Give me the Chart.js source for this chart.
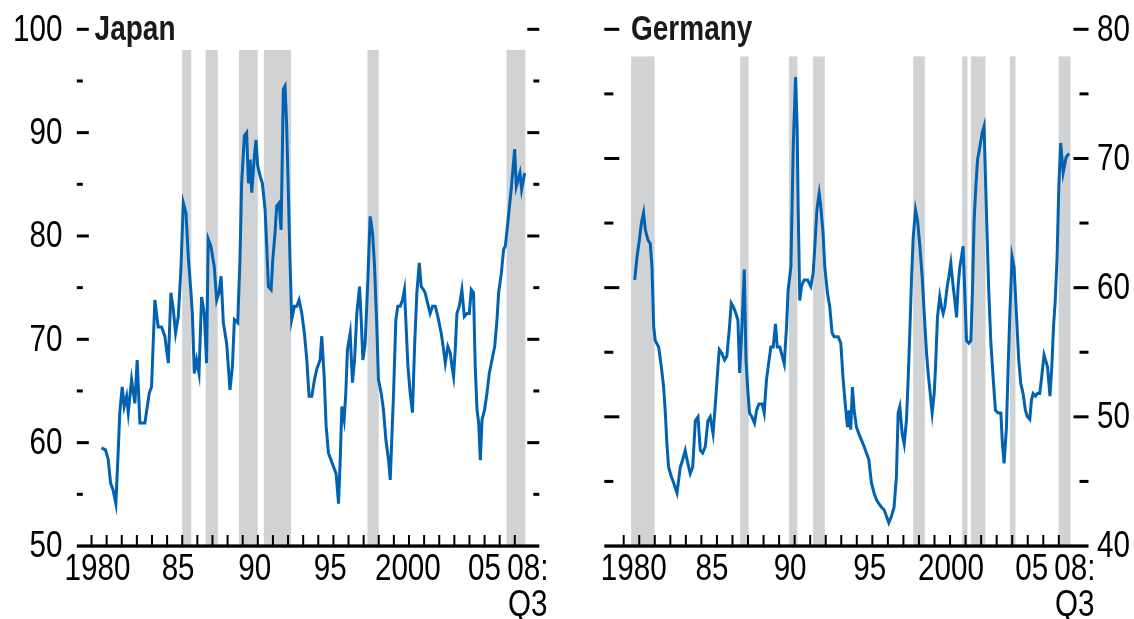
<!DOCTYPE html>
<html>
<head>
<meta charset="utf-8">
<script src="https://cdn.jsdelivr.net/npm/chart.js@4.4.1/dist/chart.umd.min.js"></script>
<style>
  html, body { margin: 0; padding: 0; background: #ffffff; }
  #wrap { position: relative; width: 1134px; height: 619px; overflow: hidden; background: #fff; }
  canvas { position: absolute; top: 0; }
  #japan { left: 0; }
  #germany { left: 570px; }
</style>
</head>
<body>
<div id="wrap">
  <canvas id="japan" width="570" height="619"></canvas>
  <canvas id="germany" width="564" height="619"></canvas>
</div>
<script>
// ---------------- DATA ----------------
const tickYears = [1980,1981,1982,1983,1984,1985,1986,1987,1988,1989,1990,1991,1992,1993,1994,1995,1996,1997,1998,1999,2000,2001,2002,2003,2004,2005,2006,2007,2008];
const tickLabelYears = [1980, 1985, 1990, 1995, 2000, 2005, 2008];
const tickLabels = ["1980", "85", "90", "95", "2000", "05", ["08:", "Q3"]];

const japanTitle = "Japan";
const germanyTitle = "Germany";

const japanYears = [1980.66,1980.92,1981.10,1981.26,1981.43,1981.61,1981.76,1981.87,1982.03,1982.16,1982.32,1982.43,1982.65,1982.87,1983.02,1983.20,1983.53,1983.82,1983.97,1984.19,1984.41,1984.63,1984.85,1985.08,1985.25,1985.41,1985.56,1985.74,1985.91,1986.07,1986.25,1986.40,1986.58,1986.67,1986.80,1986.95,1987.11,1987.28,1987.46,1987.61,1987.72,1987.90,1988.12,1988.28,1988.43,1988.57,1988.72,1988.94,1989.16,1989.32,1989.45,1989.67,1989.82,1989.93,1990.11,1990.26,1990.38,1990.49,1990.60,1990.77,1990.88,1990.99,1991.15,1991.30,1991.48,1991.59,1991.70,1991.88,1991.99,1992.14,1992.25,1992.41,1992.54,1992.69,1992.80,1992.91,1993.02,1993.13,1993.24,1993.42,1993.58,1993.73,1993.91,1994.08,1994.24,1994.39,1994.57,1994.75,1994.90,1995.12,1995.23,1995.39,1995.52,1995.67,1995.85,1996.00,1996.18,1996.34,1996.45,1996.56,1996.71,1996.82,1996.93,1997.11,1997.26,1997.40,1997.55,1997.73,1997.84,1997.95,1998.10,1998.28,1998.43,1998.59,1998.72,1998.87,1998.98,1999.16,1999.31,1999.47,1999.65,1999.76,1999.87,1999.98,2000.13,2000.26,2000.42,2000.57,2000.70,2000.79,2000.93,2001.08,2001.23,2001.37,2001.52,2001.68,2001.81,2001.96,2002.07,2002.23,2002.40,2002.56,2002.74,2002.91,2003.13,2003.29,2003.40,2003.57,2003.73,2003.84,2003.95,2004.06,2004.17,2004.33,2004.50,2004.66,2004.83,2004.99,2005.12,2005.27,2005.38,2005.50,2005.61,2005.72,2005.83,2006.00,2006.16,2006.31,2006.49,2006.67,2006.82,2006.93,2007.11,2007.26,2007.37,2007.51,2007.78,2007.99,2008.10,2008.34,2008.45,2008.65];
const japanValues = [59.5,59.3,58.4,56.1,55.4,54.1,59.0,62.9,65.4,63.5,64.5,62.9,66.1,63.8,68.0,61.9,61.9,64.8,65.4,73.8,71.2,71.2,70.3,67.7,74.5,72.9,70.6,72.2,76.7,83.2,82.2,78.0,74.5,72.5,66.7,68.0,66.7,74.1,72.5,67.7,79.7,79.0,77.0,73.8,74.5,76.1,71.6,69.6,65.1,67.4,71.9,71.6,77.7,85.1,89.7,90.0,85.1,87.4,84.2,87.7,89.3,86.8,85.8,85.1,82.6,79.0,75.1,74.8,77.7,80.3,82.9,83.2,80.6,94.2,94.5,90.6,84.2,77.7,71.9,73.2,73.2,73.8,72.5,70.6,68.0,64.5,64.5,66.1,67.1,68.0,70.3,66.4,61.6,59.0,58.3,57.7,57.0,54.1,58.3,63.5,62.2,64.8,69.0,70.6,65.8,68.0,72.5,75.1,71.9,68.0,69.6,75.8,81.9,80.3,77.1,71.3,66.1,64.8,63.2,60.3,58.3,56.4,60.6,64.8,71.9,73.2,73.2,73.8,74.8,71.9,67.4,64.8,62.9,69.3,74.5,77.4,75.1,74.8,74.5,73.5,72.5,73.2,73.2,72.2,70.6,69.0,67.7,69.3,68.7,67.4,66.4,69.0,72.5,73.2,74.8,72.2,72.5,72.5,74.8,74.5,67.4,63.2,61.9,58.3,62.2,63.2,64.8,66.7,68.0,69.3,71.9,74.5,76.4,78.7,79.0,80.9,84.8,88.4,84.8,86.1,84.5,86.1];

const germanyYears = [1980.71,1980.86,1981.01,1981.14,1981.28,1981.39,1981.56,1981.71,1981.82,1981.93,1982.03,1982.25,1982.42,1982.57,1982.68,1982.78,1982.89,1983.06,1983.21,1983.43,1983.64,1983.80,1983.96,1984.07,1984.28,1984.44,1984.61,1984.78,1984.93,1985.08,1985.25,1985.42,1985.57,1985.75,1985.90,1986.02,1986.15,1986.32,1986.49,1986.64,1986.79,1986.92,1987.07,1987.22,1987.35,1987.46,1987.61,1987.76,1987.87,1988.00,1988.10,1988.25,1988.42,1988.55,1988.70,1988.91,1989.04,1989.19,1989.30,1989.47,1989.62,1989.77,1989.88,1990.05,1990.20,1990.33,1990.48,1990.58,1990.76,1990.91,1991.06,1991.16,1991.23,1991.33,1991.44,1991.61,1991.83,1992.04,1992.19,1992.30,1992.43,1992.58,1992.68,1992.83,1992.94,1993.11,1993.26,1993.41,1993.54,1993.80,1993.97,1994.12,1994.27,1994.40,1994.51,1994.61,1994.72,1994.83,1994.98,1995.13,1995.30,1995.47,1995.62,1995.77,1995.94,1996.11,1996.26,1996.41,1996.59,1996.76,1996.91,1997.06,1997.23,1997.40,1997.55,1997.66,1997.77,1997.92,1998.05,1998.20,1998.31,1998.41,1998.52,1998.63,1998.78,1998.91,1999.06,1999.21,1999.34,1999.49,1999.59,1999.70,1999.85,1999.98,2000.07,2000.19,2000.34,2000.45,2000.56,2000.66,2000.82,2000.92,2001.05,2001.20,2001.31,2001.42,2001.52,2001.63,2001.74,2001.84,2001.95,2002.06,2002.21,2002.34,2002.44,2002.55,2002.66,2002.77,2002.92,2003.07,2003.19,2003.28,2003.37,2003.49,2003.62,2003.77,2003.92,2004.10,2004.27,2004.37,2004.48,2004.63,2004.74,2004.85,2004.99,2005.12,2005.27,2005.42,2005.55,2005.70,2005.85,2005.98,2006.13,2006.24,2006.35,2006.50,2006.62,2006.77,2006.88,2007.05,2007.27,2007.43,2007.55,2007.66,2007.77,2007.89,2008.00,2008.12,2008.28,2008.47,2008.66];
const germanyValues = [60.6,62.4,63.7,65.0,65.8,64.5,63.7,63.4,61.6,57.0,55.9,55.4,53.9,52.3,50.3,47.9,46.1,45.4,44.9,44.1,46.1,46.7,47.4,46.7,45.6,46.1,49.7,50.0,47.4,47.2,47.7,49.7,50.0,48.7,51.0,53.1,55.2,54.9,54.4,54.7,56.7,58.8,58.5,58.0,57.5,53.4,57.0,61.4,54.4,51.8,50.3,50.0,49.5,50.5,51.0,51.0,50.3,52.9,53.9,55.4,55.4,57.2,55.4,55.4,54.7,54.1,57.0,59.8,61.6,70.9,76.3,72.5,66.0,59.0,60.1,60.6,60.6,60.1,61.1,63.2,66.0,67.3,66.3,64.2,61.6,59.6,58.5,56.5,56.2,56.2,55.7,52.9,50.8,49.2,50.5,49.0,52.3,50.5,49.2,48.7,48.2,47.7,47.2,46.7,44.9,44.1,43.6,43.3,43.0,42.8,42.3,41.8,42.3,43.0,45.4,50.3,50.8,48.7,47.9,49.8,53.1,56.5,60.6,63.9,66.0,65.2,63.2,60.8,58.0,54.9,53.4,52.1,50.3,51.8,53.9,57.7,59.3,58.5,58.0,58.5,60.1,60.8,61.9,60.1,59.0,57.7,60.1,61.6,62.4,63.2,59.6,55.9,55.7,55.9,59.6,65.2,67.8,69.9,70.9,72.0,72.5,68.6,64.7,59.8,55.9,53.1,50.5,50.3,50.3,47.9,46.4,49.2,53.9,58.0,62.4,61.6,58.0,54.4,52.6,51.8,50.5,50.0,49.8,51.3,51.8,51.6,51.8,51.8,52.9,54.8,53.9,51.6,53.9,57.0,59.0,62.4,67.8,71.2,68.9,70.1,70.4];

// shaded periods (start, end in years)
const japanShadeStart = [1986.00, 1987.55, 1989.75, 1991.40, 1998.25, 2007.45];
const japanShadeEnd   = [1986.60, 1988.35, 1991.00, 1993.20, 1999.00, 2008.70];
const germanyShadeStart = [1980.48, 1987.50, 1990.63, 1992.19, 1998.63, 2001.78, 2002.34, 2004.85, 2007.98];
const germanyShadeEnd   = [1981.99, 1988.04, 1991.18, 1992.94, 1999.38, 2002.12, 2003.28, 2005.21, 2008.75];

// ---------------- STYLE ----------------
const FONT = "'Liberation Sans', Arial, Helvetica, sans-serif";
const NARROW = 0.8;              // horizontal condensing of the text (narrow Helvetica look)
const LINE_COLOR = '#0062b0';
const SHADE_COLOR = '#d1d2d4';

function narrowText(ctx, text, x, y, align) {
  ctx.save();
  ctx.translate(x, y);
  ctx.scale(NARROW, 1);
  ctx.textAlign = align;
  ctx.fillText(text, 0, 0);
  ctx.restore();
}

const panelPlugin = {
  id: 'panel',
  beforeDatasetsDraw(chart, args, o) {
    const { ctx, chartArea: a, scales: { x, y } } = chart;
    ctx.save();
    ctx.fillStyle = SHADE_COLOR;
    const top = y.getPixelForValue(o.shadeTop);
    o.starts.forEach((s, i) => {
      const x0 = x.getPixelForValue(s);
      const x1 = x.getPixelForValue(o.ends[i]);
      ctx.fillRect(x0, top, x1 - x0, a.bottom - top);
    });
    ctx.restore();
  },
  afterDatasetsDraw(chart, args, o) {
    const { ctx, chartArea: a, scales: { x, y } } = chart;
    ctx.save();
    ctx.fillStyle = '#000';
    // y tick marks, both sides, pointing inward
    y.ticks.forEach(t => {
      if (t.value <= y.min) return;
      const py = y.getPixelForValue(t.value);
      const L = (t.value % 10 === 0) ? o.majorLen : o.minorLen;
      ctx.fillRect(a.left, py - 1.5, L, 3);
      ctx.fillRect(a.right - L, py - 1.5, L, 3);
    });
    // x tick marks pointing up
    x.ticks.forEach(t => {
      const px = x.getPixelForValue(t.value);
      ctx.fillRect(px - 1, a.bottom - 11, 2, 11);
    });
    // axis line
    ctx.fillRect(a.left, a.bottom - 1.6, a.right - a.left, 3.3);

    // tick labels (labels come from the scales' own ticks)
    ctx.fillStyle = '#000';
    ctx.font = '37px ' + FONT;
    ctx.textBaseline = 'middle';
    let k = 0;
    x.ticks.forEach(t => {
      if (!t.label || (Array.isArray(t.label) ? !t.label.length : t.label === '')) return;
      const lines = Array.isArray(t.label) ? t.label : [t.label];
      const px = x.getPixelForValue(t.value) + (o.xLabelNudge[k] || 0);
      k++;
      lines.forEach((ln, i) => narrowText(ctx, ln, px, a.bottom + 24 + i * 36, 'center'));
    });
    y.ticks.forEach(t => {
      if (!t.label) return;
      const py = y.getPixelForValue(t.value);
      if (o.yLabelSide === 'left') narrowText(ctx, t.label, a.left - o.yLabelGap, py + 1, 'right');
      else narrowText(ctx, t.label, a.right + o.yLabelGap, py + 1, 'left');
    });

    // title
    ctx.fillStyle = '#1a1a1a';
    ctx.font = 'bold 35px ' + FONT;
    ctx.textBaseline = 'alphabetic';
    narrowText(ctx, o.title, o.titleX, o.titleY, 'left');
    ctx.restore();
  }
};

function makePanel(canvasId, years, values, cfg) {
  const points = years.map((t, i) => ({ x: t, y: values[i] }));
  return new Chart(document.getElementById(canvasId), {
    type: 'line',
    data: {
      datasets: [{
        data: points,
        borderColor: LINE_COLOR,
        borderWidth: 3,
        pointRadius: 0,
        tension: 0,
        fill: false
      }]
    },
    options: {
      responsive: false,
      animation: false,
      devicePixelRatio: 1,
      layout: { padding: cfg.padding },
      plugins: {
        legend: { display: false },
        tooltip: { enabled: false },
        panel: {
          starts: cfg.shadeStart, ends: cfg.shadeEnd, shadeTop: cfg.shadeTop,
          majorLen: cfg.majorLen, minorLen: cfg.minorLen,
          xLabelNudge: cfg.xLabelNudge,
          yLabelSide: cfg.yPos, yLabelGap: cfg.yGap,
          title: cfg.title, titleX: cfg.titleX, titleY: 40
        }
      },
      scales: {
        x: {
          type: 'linear',
          min: cfg.xMin, max: cfg.xMax,
          grid: { display: false, drawTicks: false },
          border: { display: false },
          afterBuildTicks: s => { s.ticks = tickYears.map(v => ({ value: v })); },
          afterFit: s => { s.height = 73; },
          ticks: {
            display: false,
            autoSkip: false,
            callback: v => {
              const i = tickLabelYears.indexOf(v);
              return i >= 0 ? tickLabels[i] : '';
            }
          }
        },
        y: {
          position: cfg.yPos,
          min: cfg.yMin, max: cfg.yMax,
          grid: { display: false, drawTicks: false },
          border: { display: false },
          afterFit: s => { s.width = cfg.yWidth; },
          ticks: {
            display: false,
            stepSize: 5,
            autoSkip: false,
            callback: v => (v % 10 === 0 ? String(v) : '')
          }
        }
      }
    },
    plugins: [panelPlugin]
  });
}

makePanel('japan', japanYears, japanValues, {
  padding: { left: 0, right: 30.7, top: 29.3, bottom: 0 },
  xMin: 1979.026, xMax: 2009.62,
  yMin: 50, yMax: 100, yPos: 'left', yWidth: 76.8, yGap: 14.3,
  xLabelNudge: [6, 11, 12, 12, 14, 15, 13],
  shadeStart: japanShadeStart, shadeEnd: japanShadeEnd, shadeTop: 98.0,
  majorLen: 12, minorLen: 6,
  title: japanTitle, titleX: 94.6
});

makePanel('germany', germanyYears, germanyValues, {
  padding: { left: 34.3, right: 0, top: 29.3, bottom: 0 },
  xMin: 1978.752, xMax: 2009.91,
  yMin: 40, yMax: 80, yPos: 'right', yWidth: 45.5, yGap: 8.5,
  xLabelNudge: [10, 10.5, 11, 13, 16.5, 19.5, 16],
  shadeStart: germanyShadeStart, shadeEnd: germanyShadeEnd, shadeTop: 77.9,
  majorLen: 15, minorLen: 9,
  title: germanyTitle, titleX: 61
});
</script>
</body>
</html>
